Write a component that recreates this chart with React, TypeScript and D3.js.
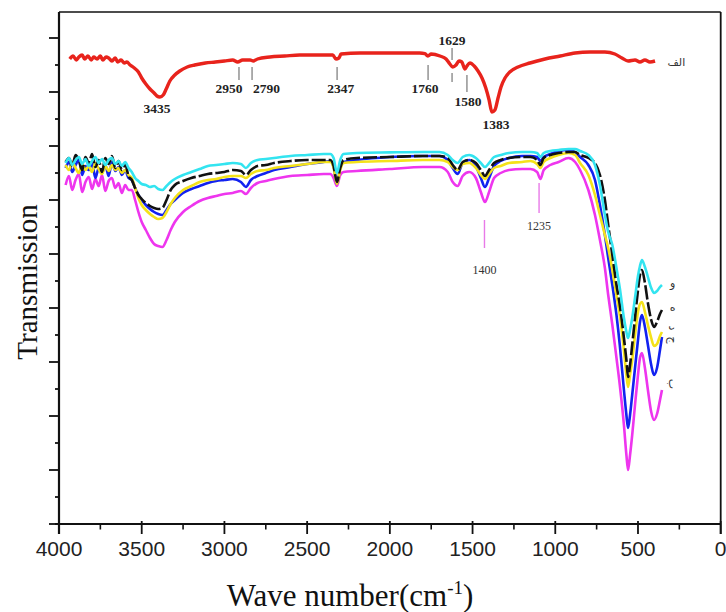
import React from "react";
import * as d3 from "d3";

// ---------- data (transmission in arbitrary units) ----------
const redWn = [3935,3915,3895,3880,3860,3845,3825,3805,3790,3770,3750,3735,3715,3700,3680,3660,3645,3625,3605,3590,3570,3545,3520,3500,3475,3450,3425,3408,3390,3370,3352,3330,3300,3270,3225,3180,3115,3055,3000,2950,2920,2890,2845,2825,2800,2725,2635,2545,2420,2345,2326,2308,2295,2180,2000,1820,1788,1770,1750,1697,1660,1637,1620,1600,1582,1565,1546,1534,1516,1490,1467,1443,1420,1400,1383,1365,1346,1328,1304,1275,1225,1153,1062,970,880,790,700,640,597,560,518,488,458,428,397];
const redT = [232.5,234,232,233.5,234.5,232.5,234,232,233.5,232.5,234,232,233.5,233,231.5,233,231,232,230.5,231,229.5,228,226,223,220,217.5,215.5,214,213.5,214.5,217.5,221.5,224.5,226.5,228.5,229.5,230.5,231,231.5,232,231,232,232,231.5,232.5,233.5,234,234.5,234.5,234.5,232.5,233,235,235.5,235.5,235.5,235.2,234,235,234,232.5,230,228.5,229.5,231.5,231,227.5,229,230.5,229,226.5,223,218,212,206,207,213,218.5,223,226,228.5,230.5,232.5,234,235.5,236,236,235,233,231.5,232,231,232,231,231.5];

const wavenumbers = [3960,3940,3920,3900,3880,3860,3840,3820,3800,3780,3760,3740,3720,3700,3680,3660,3640,3620,3600,3580,
  3560,3540,3520,3500,3475,3450,3425,3400,3375,3350,3325,3300,3250,3200,3150,3100,3050,3000,2950,2900,
  2870,2840,2800,2750,2700,2600,2500,2400,2360,2340,2320,2300,2280,2200,2000,1800,1700,1650,1620,1590,
  1560,1520,1480,1450,1425,1400,1370,1330,1280,1200,1150,1110,1090,1070,1030,980,920,880,
  850,800,760,730,700,680,655,630,610,585,570,560,548,535,518,500,488,476,458,440,420,403,385,367,355];

const cyanT = [180.5,183,179.5,182,183.5,180,182.5,179,181.5,183.5,180.5,182.5,179.5,182,183,180,181.5,179,181,178,
  176,173,171.5,170,169.5,168.5,169,167.5,167,169,171,172.5,174.5,176,177.5,179,179.5,180,180.5,180,
  178,180.5,182,182.5,183,184,184.5,185,185,183,175.5,182,185,185.5,185.8,186,186,184.5,182,180.5,
  183.5,184.5,183,180.5,178.5,180.5,183.5,184.5,185.5,186,186,185.5,183.5,185.5,186.5,187,187.5,187.5,
  186.5,184.5,179.5,169.5,154.5,146,139.5,128,118,103,96,93,97,103,113,124,129,132,128.5,123.5,118,115.5,116.5,118.5,119.5];

const blackT = [181,183,179,184.5,182,177,183.5,180.5,185,178.5,182,176,183,180,184,178,181.5,177,180,174,
  172,168,164.5,162.5,160.5,159,158,157.5,158,162,167,169.5,171.5,173,174,175,175.5,176,177,176.5,
  174.5,177,179,179.5,180.5,181.5,182,182,182,179,171,178,182,183,183.5,184,184,183,179.5,177,
  181,182,180.5,177,174,177,180.5,182,183,183.5,183.5,182,179.5,183,184.5,185.5,186,186,
  184.5,183,180.5,174.5,162,149.5,134.5,119.5,109.5,93,82,73.5,79.5,89.5,103,117,124.5,127,120.5,110.5,102,98.5,101,105,107];

const yellowT = [179.5,177,181,178,175.5,180,177,179,176,180.5,177.5,175,179,176.5,179.5,177,178,175.5,177,174.5,
  173,168,163,159.5,157,155,153.5,152.5,153,156,160,163,167,169,171,172,172.5,173.5,174,174,
  173,175,176.5,177,178,179,180,181,181,178,170,177,180.5,181,181.5,182,182,181,178.5,177,
  180,180.5,178,174.5,172.5,175,178,179,180.5,181,181.5,180,178,181,183,184.5,185.5,184.5,
  180.5,174.5,164.5,154.5,144.5,138,127,114.5,104.5,87,74.5,68.5,74.5,82,94.5,106,110,111,106,99.5,93,89,90,94,96];

const blueT = [178,181,176,179.5,182,174.5,179,177,180.5,173,178,175.5,179.5,174,181,176.5,178.5,174.5,177,173,
  172,168,164.5,162,159.5,157.5,156,155,154.5,157,160,162,165.5,167.5,169,170.5,171.5,172,172.5,171,
  168.5,172,174,175.5,177,178.5,180,181,181.5,178.5,170,178,181,182,183.5,184,184,182,178,175,
  180.5,182,179,173,168.5,173,179,181.5,183,184,184,183.5,181.5,183.5,185,186.5,187,186,
  183.5,179.5,172,159.5,144.5,133,119.5,104.5,89.5,67,54.5,48,54.5,64.5,78,92,101,104.5,98.5,89.5,79.5,74.5,78,87,93.5];

const magentaT = [169.5,174,167,172,175,166,171,173.5,167.5,172.5,169,174.5,166.5,171.5,173,168,170.5,165.5,169.5,167,
  167,162,156,151,147,143,140,139,138.5,142,147,151,156,159,161.5,163,164,165,165.5,166.5,
  165,168,170.5,171.5,172.5,174,174.5,175,175,173,169,174.5,176,176.5,177.5,178.5,178.5,176,171,169,
  174,176,173,166,161,166,173,175.5,177,177.5,177.5,176,172.5,177,179.5,181,183,181,
  177,167,154.5,142,128,114.5,99.5,83,69.5,49.5,34.5,27,34.5,44.5,59.5,74.5,83,85.5,78,67,56,52,55,62,67];

const seriesNames = ["ب", "ج", "د", "ه", "و"];
const seriesValues = [magentaT, blueT, yellowT, blackT, cyanT];
const seriesColors = ["#ee35ee", "#1222f0", "#f4e21a", "#111111", "#33e4f0"];
const seriesLabelT = [70, 92, 98, 108.5, 120.5];
const seriesLabelRot = [90, 90, 90, 0, 0];

const redName = "الف";
const redLabelT = 231;

// peak annotations on the red spectrum
const redPeakLabels = ["3435", "2950", "2790", "2347", "1760", "1629", "1580", "1383"];
const redPeakTextWn = [3408, 2972, 2745, 2297, 1787, 1624, 1528, 1358];
const redPeakTextT = [208, 218, 218, 218, 218, 242, 211.5, 200];
const redMarkWn = [2912, 2833, 2319, 1769, 1624, 1624, 1534];
const redMarkTop = [228.5, 228.5, 228.5, 229.5, 238, 225.5, 224.5];
const redMarkBottom = [222, 222, 222, 222, 232, 221, 216];

// annotations on the coloured spectra
const bandLabels = ["1400", "1235"];
const bandWn = [1428, 1098];
const bandTop = [152, 170.5];
const bandBottom = [138, 155.5];
const bandTextT = [127, 149];

const xMajor = [4000, 3500, 3000, 2500, 2000, 1500, 1000, 500, 0];
const xMinor = [3750, 3250, 2750, 2250, 1750, 1250, 750, 250];

export default function App() {
  const width = 726, height = 612;
  const left = 59, right = 720.7, top = 12, bottom = 524;
  const x = d3.scaleLinear().domain([4000, 0]).range([left, right]);
  const y = d3.scaleLinear().domain([0, 256]).range([bottom, top]);
  const line = d3
    .line<[number, number]>()
    .x((d) => x(d[0]))
    .y((d) => y(d[1]))
    .curve(d3.curveMonotoneX);

  const yTicks = d3.range(0, 256, 13.5);
  const redPath = line(redWn.map((w, i) => [w, redT[i]] as [number, number])) || "";
  const serif = "'Liberation Serif', 'Times New Roman', serif";
  const sans = "'Liberation Sans', Arial, sans-serif";
  const labelWn = 290;

  return (
    <svg
      width={width}
      height={height}
      viewBox={`0 0 ${width} ${height}`}
      style={{ position: "absolute", left: 0, top: 0, background: "#fff" }}
    >
      <rect x={0} y={0} width={width} height={height} fill="#fff" />

      {/* spectra */}
      <path d={redPath} fill="none" stroke="#e8231c" strokeWidth={3.4} strokeLinejoin="round" />
      {seriesValues.map((vals, si) => (
        <path
          key={si}
          d={line(wavenumbers.map((w, i) => [w, vals[i]] as [number, number])) || ""}
          fill="none"
          stroke={seriesColors[si]}
          strokeWidth={2.6}
          strokeLinejoin="round"
          strokeDasharray={si === 3 ? "14 3" : undefined}
        />
      ))}

      {/* red peak markers */}
      {redMarkWn.map((w, i) => (
        <line key={"rm" + i} x1={x(w)} x2={x(w)} y1={y(redMarkTop[i])} y2={y(redMarkBottom[i])} stroke="#777" strokeWidth={1.2} />
      ))}
      {redPeakLabels.map((t, i) => (
        <text
          key={"rl" + i}
          x={x(redPeakTextWn[i])}
          y={y(redPeakTextT[i])}
          dy="0.35em"
          textAnchor="middle"
          fontFamily={serif}
          fontWeight="bold"
          fontSize={13.5}
          fill="#222"
        >
          {t}
        </text>
      ))}

      {/* band markers on coloured spectra */}
      {bandLabels.map((t, i) => (
        <g key={"b" + i}>
          <line x1={x(bandWn[i])} x2={x(bandWn[i])} y1={y(bandTop[i])} y2={y(bandBottom[i])} stroke="#e87ae8" strokeWidth={1.4} />
          <text x={x(bandWn[i])} y={y(bandTextT[i])} dy="0.35em" textAnchor="middle" fontFamily={serif} fontSize={12} fill="#333">
            {t}
          </text>
        </g>
      ))}

      {/* series labels */}
      <text x={x(268)} y={y(redLabelT)} dy="0.35em" textAnchor="middle" fontFamily="'DejaVu Sans', sans-serif" fontSize={11} fill="#333">
        {redName}
      </text>
      {seriesNames.map((n, i) => {
        const lx = x(labelWn);
        const ly = y(seriesLabelT[i]);
        return (
          <text
            key={"sl" + i}
            x={lx}
            y={ly}
            dy="0.35em"
            textAnchor="middle"
            fontFamily="'DejaVu Sans', sans-serif"
            fontSize={11}
            fill="#333"
            transform={seriesLabelRot[i] ? `rotate(${seriesLabelRot[i]} ${lx} ${ly})` : undefined}
          >
            {n}
          </text>
        );
      })}

      {/* frame */}
      <line x1={left} x2={right} y1={top} y2={top} stroke="#111" strokeWidth={1.6} />
      <line x1={right} x2={right} y1={top} y2={bottom + 10} stroke="#111" strokeWidth={1.8} />
      <line x1={left} x2={left} y1={top} y2={bottom + 10} stroke="#111" strokeWidth={2.2} />
      <line x1={left - 4} x2={right} y1={bottom} y2={bottom} stroke="#111" strokeWidth={2.2} />

      {/* y ticks */}
      {yTicks.map((t, i) => (
        <line key={"yt" + i} x1={left - (i % 2 === 0 ? 10 : 4)} x2={left} y1={y(t)} y2={y(t)} stroke="#111" strokeWidth={1.8} />
      ))}

      {/* x ticks */}
      {xMajor.map((t) => (
        <line key={"xM" + t} x1={x(t)} x2={x(t)} y1={bottom - 3} y2={bottom + 10} stroke="#111" strokeWidth={1.8} />
      ))}
      {xMinor.map((t) => (
        <line key={"xm" + t} x1={x(t)} x2={x(t)} y1={bottom} y2={bottom + 5.5} stroke="#111" strokeWidth={1.6} />
      ))}
      {xMajor.map((t) => (
        <text key={"xl" + t} x={x(t)} y={556} textAnchor="middle" fontFamily={sans} fontSize={21} fill="#222">
          {t}
        </text>
      ))}

      {/* axis titles */}
      <text x={350} y={606} textAnchor="middle" fontFamily={serif} fontSize={31} fill="#111">
        Wave number(cm
        <tspan fontSize={19} dy={-12}>-1</tspan>
        <tspan dy={12}>)</tspan>
      </text>
      <text
        x={0}
        y={0}
        transform={`translate(37 ${282}) rotate(-90)`}
        textAnchor="middle"
        fontFamily={serif}
        fontSize={29}
        fill="#111"
      >
        Transmission
      </text>
    </svg>
  );
}
